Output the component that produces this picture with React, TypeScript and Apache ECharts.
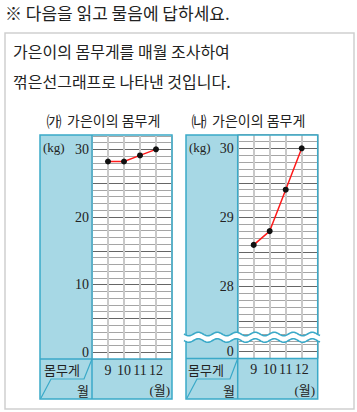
import React, { useEffect, useRef } from 'react';
import * as echarts from 'echarts';

// ---- data ----
const months = [9, 10, 11, 12];
const weightA = [28.2, 28.2, 29.1, 30];
const weightB = [28.6, 28.8, 29.4, 30];
const yTicksA = [0, 10, 20, 30];
const yTicksB = [28, 29, 30];
const yTicksBLow = [0];
const header = '※ 다음을 읽고 물음에 답하세요.';
const boxLines = ['가은이의 몸무게를 매월 조사하여', '꺾은선그래프로 나타낸 것입니다.'];
const titleA = ['㈎', '가은이의 몸무게'];
const titleB = ['㈏', '가은이의 몸무게'];
const unitY = '(kg)';
const unitX = '(월)';
const rowLabelTop = '몸무게';
const rowLabelBottom = '월';

const KR = "'Noto Sans CJK KR', 'Noto Sans', sans-serif";
const SERIF = "'Liberation Serif', 'DejaVu Serif', 'Noto Sans CJK KR', serif";
const BLUE = '#a7d8e5';
const TEAL = '#3aa9c8';
const MINOR = '#a5a5a5';
const MAJOR = '#666666';
const VLINE = '#c9c9c9';

const isInt = (v: number) => Math.abs(v - Math.round(v)) < 1e-6;

function xAxisCfg(gridIndex: number, showLabels: boolean) {
  return {
    type: 'value', gridIndex, min: 8, max: 13, interval: 1,
    axisLine: { show: false }, axisTick: { show: false },
    splitLine: { show: true, lineStyle: { color: VLINE, width: 2 } },
    axisLabel: {
      show: showLabels, margin: 4, fontSize: 14, fontFamily: SERIF, color: '#222',
      formatter: (v: number) => (months.includes(v) ? String(v) : ''),
    },
  };
}

function txt(text: string, x: number, y: number, size: number, family: string, align = 'left', z = 60) {
  return {
    type: 'text', x, y, z, silent: true,
    style: {
      text, fill: '#222', fontSize: size, fontFamily: family,
      align, textAlign: align, verticalAlign: 'middle', textVerticalAlign: 'middle',
    },
  };
}
function rect(x: number, y: number, w: number, h: number, style: any, z = -5) {
  return { type: 'rect', z, silent: true, shape: { x, y, width: w, height: h }, style };
}
function ln(x1: number, y1: number, x2: number, y2: number, z = 40) {
  return { type: 'line', z, silent: true, shape: { x1, y1, x2, y2 }, style: { stroke: TEAL, lineWidth: 1.5 } };
}
function poly(points: number[][], z = 40) {
  return { type: 'polyline', z, silent: true, shape: { points }, style: { stroke: TEAL, lineWidth: 1.2, fill: 'none' } };
}
function wave(y0: number, x0: number, x1: number) {
  const pts: number[][] = [];
  for (let x = x0; x <= x1; x += 1) pts.push([x, y0 + 1.8 * Math.sin((2 * Math.PI * (x - x0)) / 19)]);
  return pts;
}

function panel(x0: number, xp: number, x1: number, rowY: number, diag: number[][], kgX: number, wordX: number, monthX: number, unitXR: number) {
  return [
    rect(x0, 135, xp - x0, 264, { fill: BLUE }),
    rect(xp, rowY, x1 - xp, 399 - rowY, { fill: BLUE }),
    rect(x0, 135, x1 - x0, 264, { fill: 'none', stroke: TEAL, lineWidth: 1.5 }, 40),
    ln(xp, 135, xp, 399),
    ln(x0, rowY, x1, rowY),
    poly(diag),
    txt(unitY, kgX, 147, 13, SERIF),
    txt(rowLabelTop, wordX, 369, 13, KR),
    txt(rowLabelBottom, monthX, 390, 13, KR, 'center'),
    txt(unitX, unitXR, 390, 13, SERIF, 'right'),
  ];
}

const upper = wave(334, 184, 320);
const lower = wave(340.5, 184, 320);

const graphic = [
  txt(header, 5, 12, 17, KR),
  rect(5, 33, 349, 376, { fill: 'none', stroke: '#cfcfcf', lineWidth: 1.5 }, 1),
  txt(boxLines[0], 13, 51, 16, KR),
  txt(boxLines[1], 13, 81, 16, KR),
  txt(titleA[0], 54, 120, 15, KR, 'center'),
  txt(titleA[1], 67, 120, 14, KR),
  txt(titleB[0], 199, 120, 15, KR, 'center'),
  txt(titleB[1], 212, 120, 14, KR),
  ...panel(40, 92, 172, 359, [[41, 398], [51, 379], [84, 379], [92, 359]], 43, 44, 83, 170),
  ...panel(186, 237.7, 317.7, 358.5, [[187, 398], [197, 379], [230, 379], [237.7, 358.5]], 189, 188, 229, 315),
  {
    type: 'polygon', z: 50, silent: true,
    shape: { points: [...upper, ...lower.slice().reverse()] },
    style: { fill: '#fff', stroke: 'none' },
  },
  { type: 'polyline', z: 51, silent: true, shape: { points: upper }, style: { stroke: TEAL, lineWidth: 1.6, fill: 'none' } },
  { type: 'polyline', z: 51, silent: true, shape: { points: lower }, style: { stroke: TEAL, lineWidth: 1.6, fill: 'none' } },
];

const seriesStyle = {
  type: 'line', symbol: 'circle', symbolSize: 6,
  lineStyle: { color: '#ff1a1a', width: 1.5 },
  itemStyle: { color: '#111' },
  z: 20,
};

const yLabel = { fontSize: 14, fontFamily: SERIF, color: '#222' };

const option: any = {
  animation: false,
  backgroundColor: '#fff',
  grid: [
    { left: 92, top: 135.8, width: 80, height: 223.3, show: true, backgroundColor: '#fff', borderWidth: 0 },
    { left: 237.7, top: 134.5, width: 80, height: 200.1, show: true, backgroundColor: '#fff', borderWidth: 0 },
    { left: 237.7, top: 341, width: 80, height: 17.5, show: true, backgroundColor: '#fff', borderWidth: 0 },
  ],
  xAxis: [xAxisCfg(0, true), xAxisCfg(1, false), xAxisCfg(2, true)],
  yAxis: [
    {
      type: 'value', gridIndex: 0, min: -1, max: 32, interval: 1,
      axisLine: { show: false }, axisTick: { show: false },
      splitLine: { show: true, lineStyle: { color: [MINOR, MAJOR, MINOR, MINOR, MINOR], width: 1 } },
      axisLabel: {
        ...yLabel, margin: 3,
        formatter: (v: number) => (isInt(v) && yTicksA.includes(Math.round(v)) ? String(Math.round(v)) : ''),
      },
    },
    {
      type: 'value', gridIndex: 1, min: 27.3, max: 30.2, interval: 0.1,
      axisLine: { show: false }, axisTick: { show: false },
      splitLine: { show: true, lineStyle: { color: [MINOR, MINOR, MAJOR, MINOR, MINOR], width: 1 } },
      axisLabel: {
        ...yLabel, margin: 4,
        formatter: (v: number) => (isInt(v) && yTicksB.includes(Math.round(v)) ? String(Math.round(v)) : ''),
      },
    },
    {
      type: 'value', gridIndex: 2, min: -0.1, max: 0.15, interval: 0.1,
      axisLine: { show: false }, axisTick: { show: false },
      splitLine: { show: true, lineStyle: { color: [MINOR, MAJOR, MINOR, MINOR], width: 1 } },
      axisLabel: {
        ...yLabel, margin: 4,
        formatter: (v: number) => (isInt(v) && yTicksBLow.includes(Math.round(v)) ? String(Math.round(v)) : ''),
      },
    },
  ],
  series: [
    { ...seriesStyle, xAxisIndex: 0, yAxisIndex: 0, data: months.map((m, i) => [m, weightA[i]]) },
    { ...seriesStyle, xAxisIndex: 1, yAxisIndex: 1, data: months.map((m, i) => [m, weightB[i]]) },
  ],
  graphic,
};

export default function App() {
  const ref = useRef<HTMLDivElement>(null);
  useEffect(() => {
    if (!ref.current) return;
    const chart = echarts.init(ref.current, null, { renderer: 'svg' });
    chart.setOption(option);
    return () => chart.dispose();
  }, []);
  return (
    <div
      ref={ref}
      style={{ position: 'fixed', left: 0, top: 0, width: 357, height: 412, background: '#fff' }}
    />
  );
}
